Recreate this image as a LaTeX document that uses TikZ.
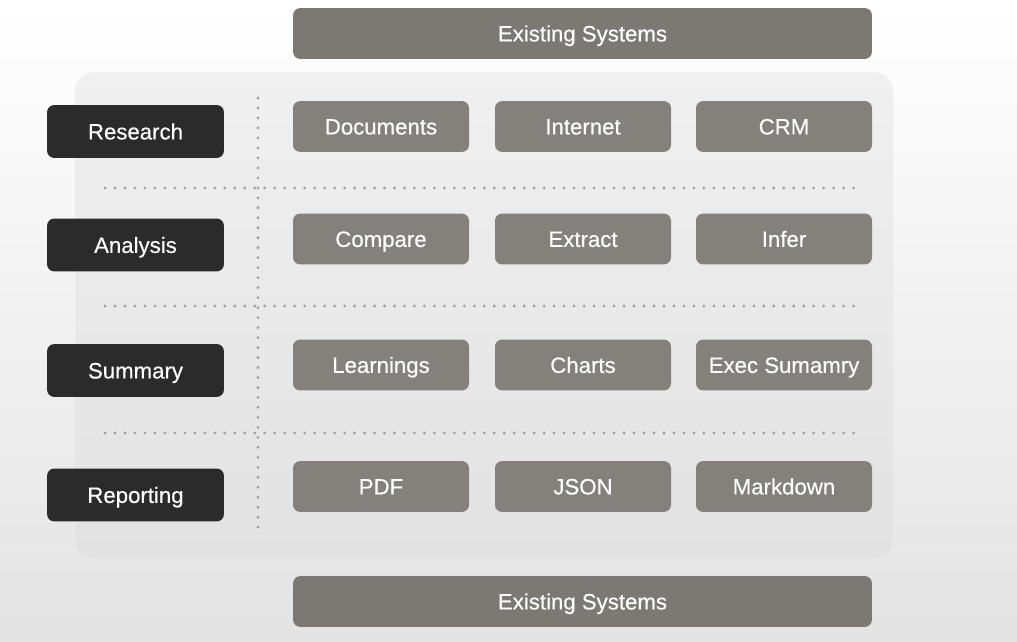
\documentclass[tikz,border=0pt]{standalone}
\usepackage{fontspec}
\setmainfont{Liberation Sans}[FakeBold=0.4]
\usetikzlibrary{positioning, backgrounds}
\definecolor{stagedark}{HTML}{2B2B2B}
\definecolor{itemgray}{HTML}{84807B}
\definecolor{sysgray}{HTML}{7C7975}
\definecolor{panelhi}{HTML}{F0F0F0}
\definecolor{panello}{HTML}{E2E2E2}
\definecolor{dotgray}{HTML}{A0A0A0}

\begin{document}
\begin{tikzpicture}[
      every node/.style={font=\fontsize{15.8}{18}\selectfont, text=white,
                  text height=14.5pt, text depth=3.2pt},
      stagebox/.style={rounded corners=5pt, fill=stagedark,
                  minimum width=4.42cm, minimum height=1.32cm, align=center},
      itembox/.style={rounded corners=5pt, fill=itemgray,
                  minimum width=4.4cm, minimum height=1.27cm, align=center},
      sysbox/.style={rounded corners=5pt, fill=sysgray,
                  minimum width=14.47cm, minimum height=1.27cm, align=center},
      dotline/.style={dotgray, line width=2.2pt, line cap=round,
                  dash pattern=on 0pt off 7.1pt},
    ]
    % page and panel
    \useasboundingbox (0,0) rectangle (25.425,16.05);
    \shade[top color=white, bottom color=panello!95!white] (0,0) rectangle (25.425,16.05);
    \shade[rounded corners=14pt, top color=panelhi, bottom color=panello]
      (1.875,2.1) rectangle (22.325,14.25);

    % separators
    \coordinate (vtop) at (6.45,13.6);
    \coordinate (vbot) at (6.45,2.8);
    \draw[dotline] (vtop) -- (vbot);
    \coordinate (h1l) at (2.625,11.35);  \coordinate (h1r) at (21.45,11.35);
    \coordinate (h2l) at (2.625,8.4);    \coordinate (h2r) at (21.45,8.4);
    \coordinate (h3l) at (2.625,5.225);  \coordinate (h3r) at (21.45,5.225);
    \draw[dotline] (h1l) -- (h1r);
    \draw[dotline] (h2l) -- (h2r);
    \draw[dotline] (h3l) -- (h3r);

    % existing systems
    \node[sysbox] (systop) at (14.5625,15.2125) {Existing Systems};
    \node[sysbox] (sysbot) at (14.5625,1.0125)  {Existing Systems};

    % stages
    \node[stagebox] (research)  at (3.3875,12.7625) {Research};
    \node[stagebox] (analysis)  at (3.3875,9.925)   {Analysis};
    \node[stagebox] (summary)   at (3.3875,6.7875)  {Summary};
    \node[stagebox] (reporting) at (3.3875,3.675)   {Reporting};

    % research row
    \node[itembox] (docs)     at (9.525,12.8875)  {Documents};
    \node[itembox] (internet) at (14.575,12.8875) {Internet};
    \node[itembox] (crm)      at (19.6,12.8875)   {CRM};

    % analysis row
    \node[itembox] (compare) at (9.525,10.075)  {Compare};
    \node[itembox] (extract) at (14.575,10.075) {Extract};
    \node[itembox] (infer)   at (19.6,10.075)   {Infer};

    % summary row
    \node[itembox] (learn)  at (9.525,6.925)  {Learnings};
    \node[itembox] (charts) at (14.575,6.925) {Charts};
    \node[itembox] (exec)   at (19.6,6.925)   {Exec Sumamry};

    % reporting row
    \node[itembox] (pdf)  at (9.525,3.8875)  {PDF};
    \node[itembox] (json) at (14.575,3.8875) {JSON};
    \node[itembox] (md)   at (19.6,3.8875)   {Markdown};
  \end{tikzpicture}
\end{document}
